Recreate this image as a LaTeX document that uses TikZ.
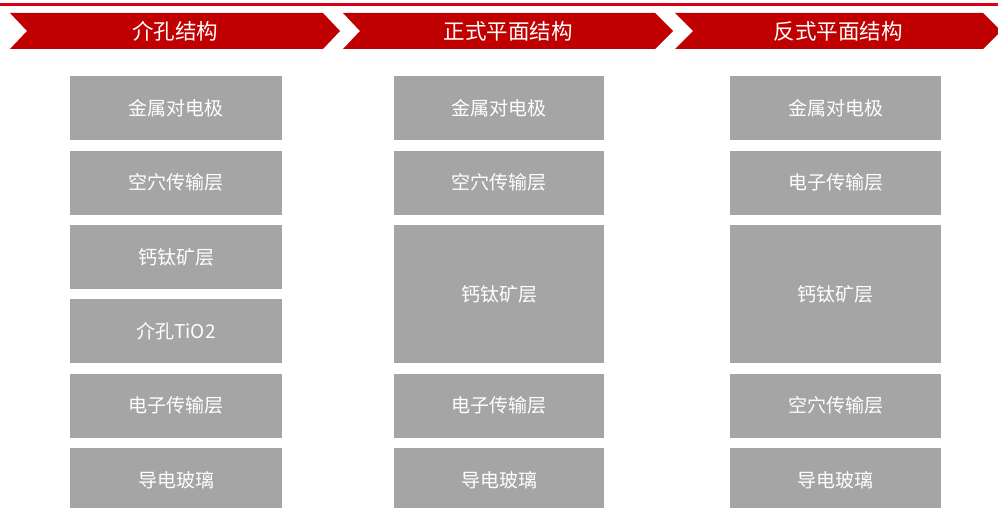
\documentclass[tikz,border=0pt]{standalone}
\usepackage{fontspec}
\setmainfont{Noto Sans CJK SC}
\definecolor{topred}{HTML}{DA0018}
\definecolor{chevred}{HTML}{C00000}
\definecolor{boxgray}{HTML}{A5A5A5}
\begin{document}
\begin{tikzpicture}[x=1pt,y=-1pt,
  layer/.style={fill=boxgray, draw=none, inner sep=0pt, text=white,
    minimum height=64pt, font=\fontsize{19}{21}\selectfont},
  c1/.style={layer, minimum width=212pt},
  c2/.style={layer, minimum width=210pt},
  c3/.style={layer, minimum width=211pt},
  chev/.style={fill=chevred, draw=none},
  head/.style={text=white, inner sep=0pt, font=\fontsize{21.5}{23}\selectfont}]
\useasboundingbox (0,0) rectangle (998,508);
\clip (0,0) rectangle (998,508);
% top line
\fill[topred] (0,3) rectangle (998,6);
% chevrons
\fill[chev] (10,13) -- (323,13) -- (340,31) -- (323,49) -- (10,49) -- (27,31) -- cycle;
\fill[chev] (343,13) -- (655,13) -- (673,31) -- (655,49) -- (343,49) -- (360,31) -- cycle;
\fill[chev] (675,13) -- (983,13) -- (1001,31) -- (983,49) -- (675,49) -- (693,31) -- cycle;
\node[head] (h1) at (175,31) {介孔结构};
\node[head] (h2) at (508,31) {正式平面结构};
\node[head] (h3) at (838,31) {反式平面结构};
% column 1
\node[c1] (a1) at (176,108) {金属对电极};
\node[c1] (a2) at (176,182.5) {空穴传输层};
\node[c1] (a3) at (176,257) {钙钛矿层};
\node[c1] (a4) at (176,331) {介孔TiO2};
\node[c1] (a5) at (176,405.5) {电子传输层};
\node[c1] (a6) at (176,480) {导电玻璃};
% column 2
\node[c2] (b1) at (499,108) {金属对电极};
\node[c2] (b2) at (499,182.5) {空穴传输层};
\node[c2, minimum height=138pt] (b3) at (499,294) {钙钛矿层};
\node[c2] (b5) at (499,405.5) {电子传输层};
\node[c2] (b6) at (499,480) {导电玻璃};
% column 3
\node[c3] (d1) at (835.5,108) {金属对电极};
\node[c3] (d2) at (835.5,182.5) {电子传输层};
\node[c3, minimum height=138pt] (d3) at (835.5,294) {钙钛矿层};
\node[c3] (d5) at (835.5,405.5) {空穴传输层};
\node[c3] (d6) at (835.5,480) {导电玻璃};
\end{tikzpicture}
\end{document}
